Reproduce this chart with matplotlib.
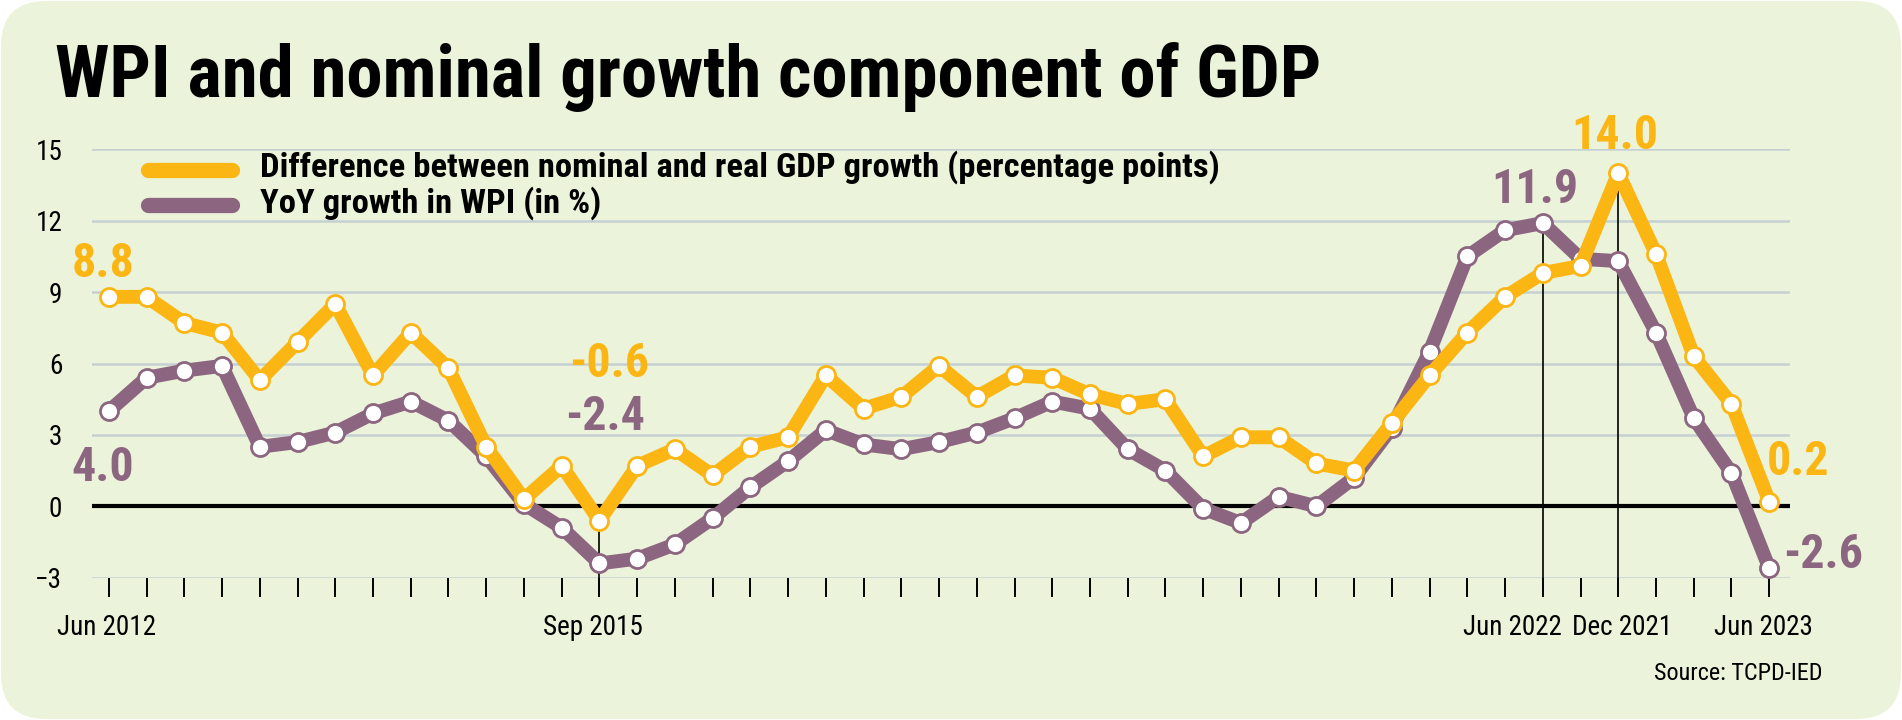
import matplotlib
matplotlib.use("Agg")
import matplotlib.pyplot as plt
from matplotlib import font_manager
from matplotlib.patches import FancyBboxPatch
from matplotlib.lines import Line2D
from matplotlib.transforms import IdentityTransform

# quarterly series, Jun 2012 .. Jun 2023 (45 points)
gdp_gap = [8.8, 8.8, 7.7, 7.3, 5.3, 6.9, 8.5, 5.5, 7.3, 5.8, 2.5, 0.3, 1.7, -0.6, 1.7, 2.4,
           1.3, 2.5, 2.9, 5.5, 4.1, 4.6, 5.9, 4.6, 5.5, 5.4, 4.7, 4.3, 4.5, 2.1, 2.9, 2.9, 1.8, 1.5,
           3.5, 5.5, 7.3, 8.8, 9.8, 10.1, 14.0, 10.6, 6.3, 4.3, 0.2]
wpi = [4.0, 5.4, 5.7, 5.9, 2.5, 2.7, 3.1, 3.9, 4.4, 3.6, 2.1, 0.1, -0.9, -2.4, -2.2, -1.6,
       -0.5, 0.8, 1.9, 3.2, 2.6, 2.4, 2.7, 3.1, 3.7, 4.4, 4.1, 2.4, 1.5, -0.1, -0.7, 0.4, 0.0, 1.2,
       3.3, 6.5, 10.5, 11.6, 11.9, 10.4, 10.3, 7.3, 3.7, 1.4, -2.6]

label_idx = [0, 13, 38, 40, 44]
label_text = ["Jun 2012", "Sep 2015", "Jun 2022", "Dec 2021", "Jun 2023"]
label_shift = [-2, -6, -30, 4, -6]   # pixels
yticks = [-3, 0, 3, 6, 9, 12, 15]

title = "WPI and nominal growth component of GDP"
leg_gap = "Difference between nominal and real GDP growth (percentage points)"
leg_wpi = "YoY growth in WPI (in %)"
source = "Source: TCPD-IED"

ORANGE = "#fcb614"
PURPLE = "#8c6680"
BG = "#ebf3da"
GRID = "#c5d0d3"

# pick a condensed face if there is one
installed = {f.name for f in font_manager.fontManager.ttflist}
fam = "DejaVu Sans"
for f in ["Roboto Condensed", "Open Sans Condensed", "Liberation Sans Narrow"]:
    if f in installed:
        fam = f
        break
plt.rcParams["font.family"] = [fam, "DejaVu Sans"]

W, H = 1902, 720
fig = plt.figure(figsize=(W / 100, H / 100), dpi=100)
fig.patch.set_facecolor("white")
fig.add_artist(FancyBboxPatch((1, 1), W - 2, H - 2, boxstyle="round,pad=0,rounding_size=45",
                              transform=IdentityTransform(), fc=BG, ec="none", zorder=-10))
r = fig.canvas.get_renderer()


def size_for(s, target, weight="normal"):
    t = fig.text(0, 0, s, fontsize=20, fontweight=weight)
    w = t.get_window_extent(renderer=r).width
    t.remove()
    return 20 * target / w


def fx(px):
    return px / W


def fy(py):
    return 1 - py / H


ax = fig.add_axes([fx(91.5), fy(577.7), (1789.6 - 91.5) / W, (577.7 - 149.3) / H])
ax.set_facecolor("none")
ax.set_xlim(-0.46, 44.54)
ax.set_ylim(-3, 15)
for s in ax.spines.values():
    s.set_visible(False)

x = list(range(len(gdp_gap)))
ax.set_yticks(yticks)
ax.grid(axis="y", color=GRID, lw=1.8)
ax.set_axisbelow(True)
ax.axhline(0, color="black", lw=3, zorder=1.5)
ax.set_xticks(x)
ax.set_xticklabels([])
ax.tick_params(axis="x", length=14, width=1.4, color="black")

tick_size = size_for("Jun 2012", 90) * 1.1
ax.tick_params(axis="y", length=0, pad=21, labelsize=tick_size)

for i, lab, dx in zip(label_idx, label_text, label_shift):
    ax.annotate(lab, xy=(i, 0), xycoords=("data", "axes fraction"), xytext=(dx, -57),
                textcoords="offset pixels", ha="center", va="baseline", fontsize=tick_size)

# drop lines to the highlighted points
ax.vlines([13, 38, 40], -3, [gdp_gap[13], wpi[38], gdp_gap[40]], color="black", lw=1.2, zorder=2)

ax.plot(x, wpi, color=PURPLE, lw=10, marker="o", ms=13, mfc="white", mec=PURPLE, mew=2,
        solid_joinstyle="round", solid_capstyle="round", zorder=3, clip_on=False)
ax.plot(x, gdp_gap, color=ORANGE, lw=10, marker="o", ms=13, mfc="white", mec=ORANGE, mew=2,
        solid_joinstyle="round", solid_capstyle="round", zorder=4, clip_on=False)

# value callouts: (series, colour, index, dx, dy, ha)
lab_size = size_for("-2.6", 74, "bold") * 1.08
callouts = [(gdp_gap, ORANGE, 0, -6, 20, "center"),
            (wpi, PURPLE, 0, -6, -70, "center"),
            (gdp_gap, ORANGE, 13, 10, 144, "center"),
            (wpi, PURPLE, 13, 6, 133, "center"),
            (wpi, PURPLE, 38, -8, 20, "center"),
            (gdp_gap, ORANGE, 40, -4, 24, "center"),
            (gdp_gap, ORANGE, 44, -2, 27, "left"),
            (wpi, PURPLE, 44, 14, 0, "left")]
for ser, col, i, dx, dy, ha in callouts:
    ax.annotate(f"{ser[i]:.1f}", xy=(i, ser[i]), xytext=(dx, dy), textcoords="offset pixels",
                ha=ha, va="baseline", fontsize=lab_size, fontweight="bold", color=col,
                annotation_clip=False)

# title
fig.text(fx(55), fy(97), title, fontsize=size_for(title, 1265, "bold"), fontweight="bold",
         va="baseline", color="black")

# legend
leg_size = size_for(leg_gap, 953, "bold")
for py, col, txt, base in [(170, ORANGE, leg_gap, 177), (205, PURPLE, leg_wpi, 213)]:
    fig.add_artist(Line2D([fx(148), fx(232)], [fy(py), fy(py)], lw=11, color=col,
                          solid_capstyle="round"))
    fig.text(fx(260), fy(base), txt, fontsize=leg_size, fontweight="bold", va="baseline")

fig.text(fx(1822), fy(680), source, fontsize=size_for(source, 160) * 1.05, ha="right",
         va="baseline")

fig.savefig("out.png", dpi=100, facecolor=fig.get_facecolor())
